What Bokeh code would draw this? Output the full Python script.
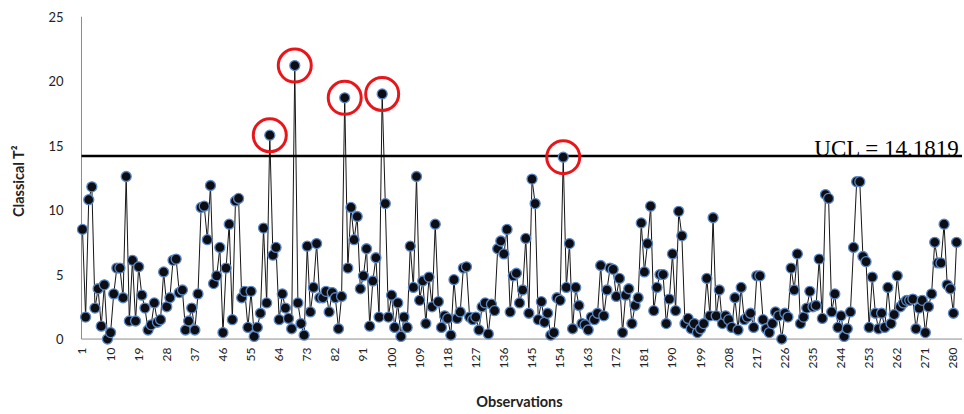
import math
from bokeh.plotting import figure
from bokeh.models import Range1d, FixedTicker, Label
from bokeh.embed import file_html
from bokeh.resources import INLINE

t2 = [
    8.5, 1.7, 10.8, 11.8, 2.4, 3.9, 1.0, 4.2, 0.0, 0.5,
    3.5, 5.5, 5.5, 3.2, 12.6, 1.4, 6.1, 1.4, 5.6, 3.4,
    2.4, 0.7, 1.1, 2.8, 1.3, 1.5, 5.2, 2.5, 3.2, 6.1,
    6.2, 3.6, 3.8, 0.7, 1.4, 2.4, 0.7, 3.5, 10.2, 10.3,
    7.7, 11.9, 4.3, 4.9, 7.1, 0.5, 5.5, 8.9, 1.5, 10.7,
    10.9, 3.2, 3.7, 0.9, 3.7, 0.2, 0.9, 2.0, 8.6, 2.8,
    15.8, 6.5, 7.1, 1.5, 3.5, 2.4, 1.6, 0.8, 21.2, 2.8,
    1.2, 0.3, 7.2, 2.1, 4.0, 7.4, 3.2, 3.2, 3.7, 2.1,
    3.6, 3.2, 0.8, 3.3, 18.7, 5.5, 10.2, 7.7, 9.5, 3.9,
    4.9, 7.0, 1.0, 4.5, 6.3, 1.7, 19.0, 10.5, 1.7, 3.4,
    0.9, 2.8, 0.2, 1.7, 0.9, 7.2, 4.0, 12.6, 3.0, 4.5,
    1.2, 4.8, 2.5, 8.9, 2.9, 0.9, 1.8, 1.6, 0.3, 4.6,
    1.6, 2.1, 5.5, 5.6, 1.7, 1.5, 1.7, 0.7, 2.5, 2.8,
    0.4, 2.7, 2.2, 7.0, 7.6, 6.6, 8.5, 2.1, 4.9, 5.1,
    2.8, 3.8, 7.8, 2.0, 12.4, 10.5, 1.5, 2.9, 1.3, 2.0,
    0.3, 0.5, 3.2, 3.0, 14.1, 4.0, 7.4, 0.8, 4.0, 2.6,
    1.2, 1.1, 0.7, 1.7, 1.5, 2.0, 5.7, 1.8, 3.8, 5.5,
    5.4, 3.3, 4.7, 0.5, 3.4, 3.9, 1.2, 2.6, 3.2, 9.0,
    5.2, 7.4, 10.3, 2.2, 4.0, 5.0, 5.0, 1.2, 3.1, 6.6,
    2.2, 9.9, 8.0, 1.2, 1.6, 0.8, 1.2, 0.5, 0.8, 1.2,
    4.7, 1.8, 9.4, 1.8, 3.8, 1.2, 1.8, 1.5, 0.9, 3.2,
    0.7, 4.0, 1.5, 1.7, 2.0, 0.9, 4.9, 4.9, 1.5, 0.8,
    0.5, 1.2, 2.1, 1.8, 0.0, 2.0, 1.7, 5.5, 3.8, 6.6,
    1.2, 1.7, 2.4, 3.7, 2.5, 2.6, 6.2, 1.6, 11.2, 10.9,
    2.1, 3.5, 0.9, 1.8, 0.2, 0.8, 2.1, 7.1, 12.2, 12.2,
    6.4, 6.0, 0.9, 4.8, 2.0, 0.8, 2.0, 0.9, 4.0, 1.2,
    1.9, 4.9, 2.5, 2.8, 3.0, 3.0, 3.1, 0.8, 2.4, 3.0,
    0.5, 2.5, 3.5, 7.5, 5.9, 5.9, 8.9, 4.2, 3.9, 2.0,
    7.5,
]
obs = list(range(1, len(t2) + 1))
UCL = 14.1819
ucl_text = "UCL = 14.1819"
flagged_obs = [61, 69, 85, 97, 155]
x_tick_obs = list(range(1, 281, 9))
y_ticks = [0, 5, 10, 15, 20, 25]

flag_x = flagged_obs
flag_y = [t2[o - 1] for o in flagged_obs]

AXIS_X = 0.68
X_START, X_END = -0.92, 282.9
Y_START, Y_END = -0.5, 25

p = figure(width=962, height=413,
           x_range=Range1d(X_START, X_END), y_range=Range1d(Y_START, Y_END),
           output_backend="svg", toolbar_location=None,
           min_border_left=76, min_border_right=0,
           min_border_top=16, min_border_bottom=68)
p.outline_line_color = None
p.grid.grid_line_color = None
p.background_fill_color = "white"

# axis lines drawn as segments so markers at 0 / obs 1 are not cut
p.segment(x0=[AXIS_X], y0=[0], x1=[AXIS_X], y1=[Y_END], line_color="#8c8c8c", line_width=1)
p.segment(x0=[AXIS_X], y0=[0], x1=[X_END], y1=[0], line_color="#8c8c8c", line_width=1)

p.line(obs, t2, line_color="#151515", line_width=1)
p.segment(x0=[AXIS_X], y0=[UCL], x1=[X_END], y1=[UCL], line_color="black", line_width=2.5)
p.scatter(obs, t2, size=10, marker="circle", fill_color="#0d0d14",
          line_color="#5b87c5", line_width=1.3)
p.scatter(flag_x, flag_y, size=33, marker="circle", fill_color=None,
          line_color="#e8161b", line_width=3)

p.add_layout(Label(x=X_END, y=UCL, x_offset=-3, y_offset=8, text=ucl_text,
                   text_align="right", text_baseline="alphabetic",
                   text_font="Liberation Serif", text_font_size="23px",
                   text_color="black"))

for ax in (p.xaxis[0], p.yaxis[0]):
    ax.axis_line_color = None
    ax.major_tick_line_color = None
    ax.minor_tick_line_color = None
    ax.major_label_text_font = "Lato"
    ax.major_label_text_color = "#222222"
    ax.axis_label_text_font = "Lato"
    ax.axis_label_text_font_style = "bold"
    ax.axis_label_text_font_size = "14.5px"
    ax.axis_label_text_color = "#222222"

p.xaxis.ticker = FixedTicker(ticks=x_tick_obs)
p.xaxis.major_label_orientation = math.pi / 2
p.xaxis.major_label_text_font_size = "12px"
p.xaxis.major_label_standoff = -4
p.xaxis.axis_label = "Observations"
p.xaxis.axis_label_standoff = 22

p.yaxis.ticker = FixedTicker(ticks=y_ticks)
p.yaxis.major_label_text_font_size = "13px"
p.yaxis.major_label_standoff = 7
p.yaxis.axis_label = "Classical T\u00b2"
p.yaxis.axis_label_standoff = 18

open("out.html", "w").write(file_html(p, INLINE))
